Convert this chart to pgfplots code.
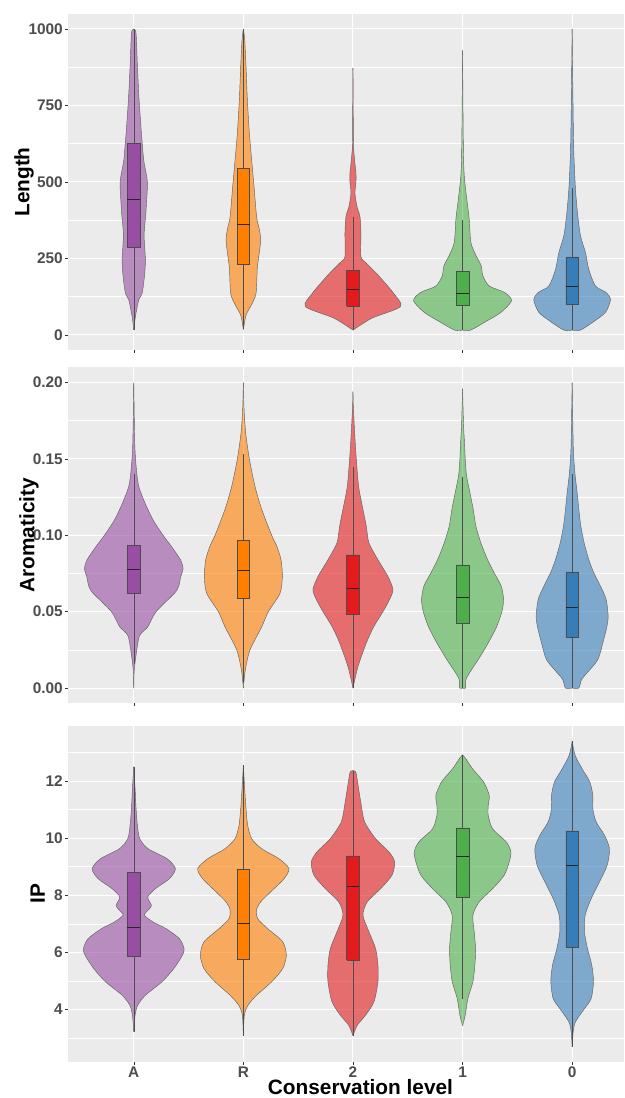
\documentclass[border=0pt]{standalone}
\usepackage{fontspec}
\setmainfont{Liberation Sans}
\usepackage{pgfplots}
\pgfplotsset{compat=1.18}
\usepackage{pgfplotstable}

\definecolor{cA}{HTML}{984EA3}
\definecolor{cR}{HTML}{FF7F00}
\definecolor{cT}{HTML}{E41A1C}
\definecolor{cO}{HTML}{4DAF4A}
\definecolor{cZ}{HTML}{377EB8}
\definecolor{panel}{HTML}{EBEBEB}
\definecolor{ticklab}{HTML}{4D4D4D}

% half-widths w are in units of 1/328.8 of the category spacing
% ---------------- Length ----------------
\pgfplotstableread{
y w
16 0
60 5
115 15
136 25
191 32
245 35
327 31
393 36
485 41
517 39
571 30
660 23
769 16
878 11
965 8
993 6
1000 0
}\LenA
\pgfplotstableread{
y w
18 0
65 8
100 25
136 38
220 42
270 48
313 52
350 47
384 40
485 32
571 25
660 18
769 12
878 8
965 4
1000 0
}\LenR
\pgfplotstableread{
y w
16 0
55 57
93 143
136 122
169 97
202 70
235 40
256 24
333 24
387 21
420 12
464 6
500 9
529 9
560 6
583 4
620 1.5
700 1
872 0
}\LenT
\pgfplotstableread{
y w
16 0
16 24
44 70
74 115
112 147
139 126
160 80
193 61
226 56
258 41
302 25
378 20
433 14
487 8
540 4
650 2
930 0
}\LenO
\pgfplotstableread{
y w
16 0
16 25
44 65
74 100
115 115
139 102
160 70
214 50
269 40
324 25
389 17
476 10
596 5
720 3
1000 0
}\LenZ
% ---------------- Aromaticity ----------------
\pgfplotstableread{
y w
0 0
0.010 1
0.0186 5
0.034 17
0.040 42
0.050 67
0.062 122
0.0667 135
0.073 141
0.078 148
0.084 140
0.093 112
0.100 88
0.110 58
0.121 34
0.132 15
0.143 8
0.160 3
0.200 0
}\AroA
\pgfplotstableread{
y w
0 0
0.012 6
0.025 20
0.040 55
0.050 75
0.062 110
0.073 117
0.084 113
0.093 100
0.100 85
0.117 55
0.132 35
0.150 18
0.167 7
0.183 2
0.200 0
}\AroR
\pgfplotstableread{
y w
0 0
0.014 15
0.0295 40
0.040 62
0.050 90
0.058 110
0.0645 120
0.073 105
0.084 75
0.095 48
0.106 40
0.117 30
0.132 17
0.150 10
0.160 7
0.1716 4
0.185 1
0.194 0
}\AroT
\pgfplotstableread{
y w
0 0
0 9
0.0055 10
0.010 21
0.0186 47
0.0295 77
0.040 102
0.050 118
0.058 123
0.0667 116
0.0754 95
0.084 75
0.095 55
0.106 40
0.117 32
0.128 22
0.139 12
0.150 8
0.160 6
0.172 3
0.196 0
}\AroO
\pgfplotstableread{
y w
0 0
0 20
0.0055 28
0.010 45
0.0186 77
0.0295 92
0.040 104
0.047 108
0.058 102
0.0667 85
0.0754 65
0.084 50
0.095 36
0.106 26
0.117 20
0.128 15
0.139 9
0.150 5
0.161 3
0.200 0
}\AroZ
% ---------------- IP ----------------
\pgfplotstableread{
y w
3.22 0
3.8 4
4.15 12
4.5 35
4.97 85
5.43 120
5.9 146
6.13 151
6.48 137
6.83 97
7.05 60
7.3 32
7.5 45
7.65 53
7.94 42
8.23 65
8.58 107
8.93 125
9.28 100
9.63 43
9.98 18
10.45 11
11.03 7
11.73 4
12.51 0
}\IpA
\pgfplotstableread{
y w
3.08 0
3.8 3
4.15 14
4.5 40
4.97 85
5.43 118
5.9 129
6.37 118
6.83 73
7.18 43
7.5 40
7.77 52
8.12 82
8.58 122
8.93 137
9.28 107
9.63 55
9.98 25
10.45 13
11.03 8
11.73 4
12.55 0
}\IpR
\pgfplotstableread{
y w
3.08 0
3.45 13
3.8 38
4.27 63
4.97 75
5.55 75
6.13 68
6.72 48
7.3 30
7.77 43
8.23 83
8.7 117
9.17 125
9.52 108
9.98 68
10.57 35
11.15 25
11.73 17
12.25 10
12.33 8
12.37 0
}\IpT
\pgfplotstableread{
y w
3.43 0
3.8 8
4.38 16
4.97 31
5.55 37
6.13 39
6.72 35
7.3 31
7.77 50
8.23 90
8.7 125
9.17 140
9.52 145
9.87 131
10.33 90
10.8 77
11.15 77
11.5 80
11.97 63
12.43 30
12.78 10
12.92 0
}\IpO
\pgfplotstableread{
y w
2.69 0
3.22 3
3.57 10
4.03 37
4.38 57
4.97 64
5.55 59
6.13 46
6.72 37
7.3 39
7.88 57
8.47 82
9.05 105
9.63 112
10.1 97
10.57 72
11.03 62
11.5 62
11.97 53
12.43 30
12.9 9
13.39 0
}\IpZ

\newcommand{\violin}[3]{% pos, table, colour
  \addplot[fill=#3, fill opacity=0.6, draw=none, smooth, tension=0.45] table[x expr=#1+\thisrow{w}/328.8, y=y] {#2};
  \addplot[fill=#3, fill opacity=0.6, draw=none, smooth, tension=0.45] table[x expr=#1-\thisrow{w}/328.8, y=y] {#2};
  \addplot[draw=black!62, line width=0.45pt, smooth, tension=0.45] table[x expr=#1+\thisrow{w}/328.8, y=y] {#2};
  \addplot[draw=black!62, line width=0.45pt, smooth, tension=0.45] table[x expr=#1-\thisrow{w}/328.8, y=y] {#2};
}
% box: pos, lower whisker, lower quartile, median, upper quartile, upper whisker, colour
\newcommand{\bx}[7]{%
  \addplot[draw=black!70, line width=0.5pt] table[row sep=\\, x expr=#1, y=v] {v\\ #2\\ #3\\};
  \addplot[draw=black!70, line width=0.5pt] table[row sep=\\, x expr=#1, y=v] {v\\ #5\\ #6\\};
  \addplot[draw=black!70, line width=0.5pt, fill=#7] table[row sep=\\, x expr=#1+\thisrow{d}, y=v]
     {d v\\ -0.0575 #3\\ 0.0575 #3\\ 0.0575 #5\\ -0.0575 #5\\ -0.0575 #3\\};
  \addplot[draw=black!85, line width=1pt] table[row sep=\\, x expr=#1+\thisrow{d}, y=v]
     {d v\\ -0.0575 #4\\ 0.0575 #4\\};
}

\pgfplotsset{
  myax/.style={
    scale only axis, width=556pt, height=336pt,
    xmin=0.4, xmax=5.473,
    xtick={1,2,3,4,5},
    axis background/.style={fill=panel},
    axis line style={draw=none},
    tick align=outside, major tick length=3pt, minor tick length=0pt,
    every tick/.style={draw=black!80, line width=0.5pt},
    xtick pos=bottom, ytick pos=left,
    xmajorgrids, ymajorgrids, yminorgrids,
    major grid style={white, line width=1pt},
    minor grid style={white, line width=0.5pt},
    ticklabel style={font=\fontsize{15.4}{18}\selectfont\bfseries, text=ticklab},
    yticklabel style={inner xsep=2pt},
    xticklabel style={inner ysep=0pt, yshift=-2pt},
    ylabel style={font=\fontsize{20.8}{24}\selectfont\bfseries, text=black, anchor=base, inner sep=0pt},
    xlabel style={font=\fontsize{20.8}{24}\selectfont\bfseries, text=black, anchor=base, inner sep=0pt},
  }
}

\begin{document}
\begin{tikzpicture}
\path[use as bounding box] (0,0) rectangle (624pt,1098pt);

% ---------- Length ----------
\begin{axis}[myax, at={(68pt,748pt)}, anchor=south west,
  ymin=-49, ymax=1049,
  ytick={0,250,500,750,1000}, yticklabels={0,250,500,750,1000},
  minor ytick={125,375,625,875},
  xticklabels={},
  ylabel={Length},
  ylabel style={at={(axis description cs:-0.0696,0.5)}}]
\violin{1}{\LenA}{cA}
\bx{1}{16}{287}{444}{625}{1000}{cA}
\violin{2}{\LenR}{cR}
\bx{2}{18}{231}{361}{544}{1000}{cR}
\violin{3}{\LenT}{cT}
\bx{3}{16}{95}{148}{211}{385}{cT}
\violin{4}{\LenO}{cO}
\bx{4}{16}{96}{136}{207}{376}{cO}
\violin{5}{\LenZ}{cZ}
\bx{5}{16}{101}{159}{255}{480}{cZ}
\end{axis}

% ---------- Aromaticity ----------
\begin{axis}[myax, at={(68pt,394.7pt)}, anchor=south west,
  ymin=-0.01, ymax=0.21,
  ytick={0,0.05,0.1,0.15,0.2}, yticklabels={0.00,0.05,0.10,0.15,0.20},
  minor ytick={0.025,0.075,0.125,0.175},
  xticklabels={},
  ylabel={Aromaticity},
  ylabel style={at={(axis description cs:-0.0606,0.5)}}]
\violin{1}{\AroA}{cA}
\bx{1}{0.016}{0.0623}{0.0774}{0.0933}{0.140}{cA}
\violin{2}{\AroR}{cR}
\bx{2}{0.003}{0.059}{0.077}{0.097}{0.153}{cR}
\violin{3}{\AroT}{cT}
\bx{3}{0}{0.048}{0.0654}{0.0872}{0.145}{cT}
\violin{4}{\AroO}{cO}
\bx{4}{0}{0.0426}{0.0592}{0.0807}{0.138}{cO}
\violin{5}{\AroZ}{cZ}
\bx{5}{0}{0.0334}{0.0527}{0.076}{0.140}{cZ}
\end{axis}

% ---------- IP ----------
\begin{axis}[myax, at={(68pt,36.3pt)}, anchor=south west,
  ymin=2.17, ymax=13.94,
  ytick={4,6,8,10,12}, yticklabels={4,6,8,10,12},
  minor ytick={3,5,7,9,11,13},
  xticklabels={A,R,2,1,0},
  ylabel={IP},
  ylabel style={at={(axis description cs:-0.0414,0.5)}},
  xlabel={Conservation level},
  xlabel style={at={(axis description cs:0.526,-0.0991)}}]
\violin{1}{\IpA}{cA}
\bx{1}{3.22}{5.85}{6.88}{8.79}{12.51}{cA}
\violin{2}{\IpR}{cR}
\bx{2}{3.08}{5.77}{7.02}{8.9}{12.55}{cR}
\violin{3}{\IpT}{cT}
\bx{3}{3.08}{5.73}{8.3}{9.38}{12.37}{cT}
\violin{4}{\IpO}{cO}
\bx{4}{4.38}{7.94}{9.35}{10.36}{12.92}{cO}
\violin{5}{\IpZ}{cZ}
\bx{5}{2.69}{6.17}{9.03}{10.26}{13.39}{cZ}
\end{axis}
\end{tikzpicture}
\end{document}
